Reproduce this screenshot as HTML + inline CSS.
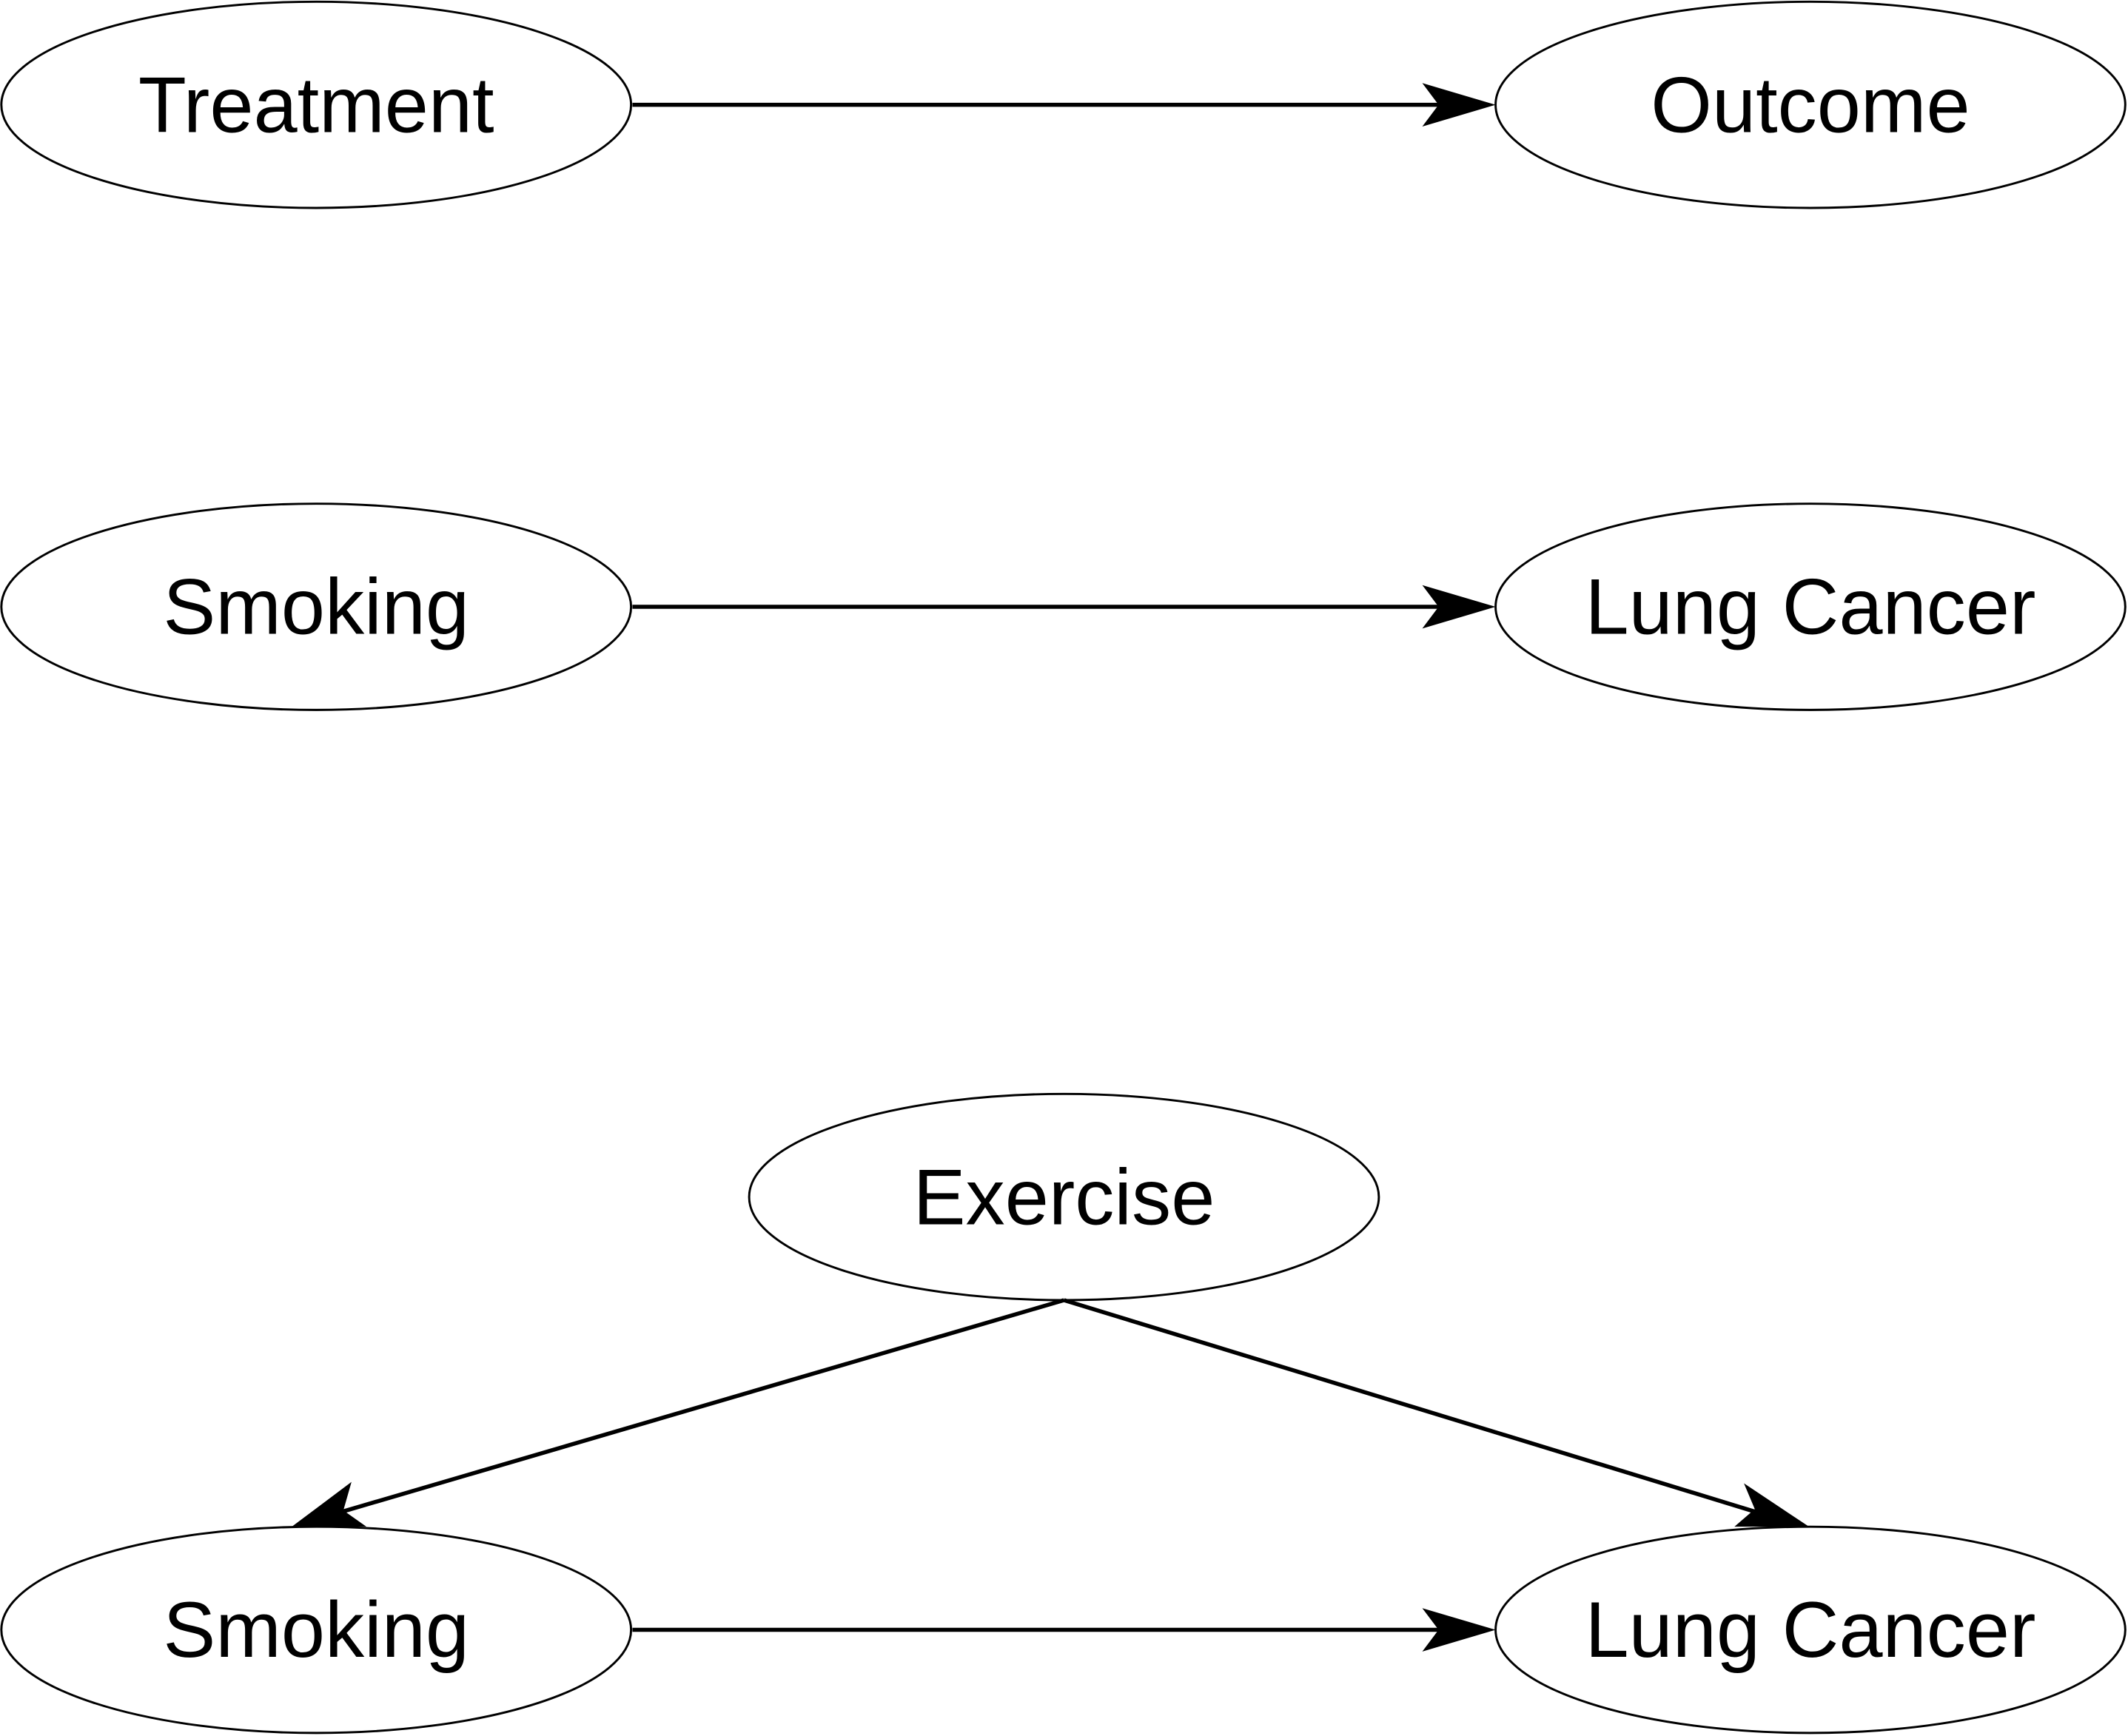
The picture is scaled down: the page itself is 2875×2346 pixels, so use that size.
<!DOCTYPE html>
<html><head><meta charset="utf-8"><style>
html,body{margin:0;padding:0;background:#fff;}
svg{display:block;}
text{font-family:"Liberation Sans",sans-serif;font-size:58px;fill:#000;text-anchor:middle;}
</style></head><body>
<svg width="2875" height="2346" viewBox="0 0 1568 1279" xmlns="http://www.w3.org/2000/svg">
<g fill="#fff" stroke="#000" stroke-width="1.6">
<ellipse cx="233" cy="77" rx="232" ry="76"/>
<ellipse cx="1334" cy="77" rx="232" ry="76"/>
<ellipse cx="233" cy="447" rx="232" ry="76"/>
<ellipse cx="1334" cy="447" rx="232" ry="76"/>
<ellipse cx="784" cy="882" rx="232" ry="76"/>
<ellipse cx="233" cy="1201" rx="232" ry="76"/>
<ellipse cx="1334" cy="1201" rx="232" ry="76"/>
</g>
<g stroke="#000" stroke-width="3" fill="none">
<line x1="466" y1="77" x2="1070" y2="77"/>
<line x1="466" y1="447" x2="1070" y2="447"/>
<line x1="466" y1="1201" x2="1070" y2="1201"/>
<line x1="784" y1="958" x2="245" y2="1116"/>
<line x1="784" y1="958" x2="1300" y2="1116"/>
</g>
<g fill="#000">
<polygon points="1102,77 1048,61 1060,77 1048,93"/>
<polygon points="1102,447 1048,431 1060,447 1048,463"/>
<polygon points="1102,1201 1048,1185 1060,1201 1048,1217"/>
<polygon points="215,1125 259,1092 253,1113 270,1125"/>
<polygon points="1333,1125 1278,1125 1293,1112 1285,1093"/>
</g>
<text x="233" y="97">Treatment</text>
<text x="1334" y="97">Outcome</text>
<text x="233" y="467">Smoking</text>
<text x="1334" y="467">Lung Cancer</text>
<text x="784" y="902">Exercise</text>
<text x="233" y="1221">Smoking</text>
<text x="1334" y="1221">Lung Cancer</text>
</svg>
</body></html>
